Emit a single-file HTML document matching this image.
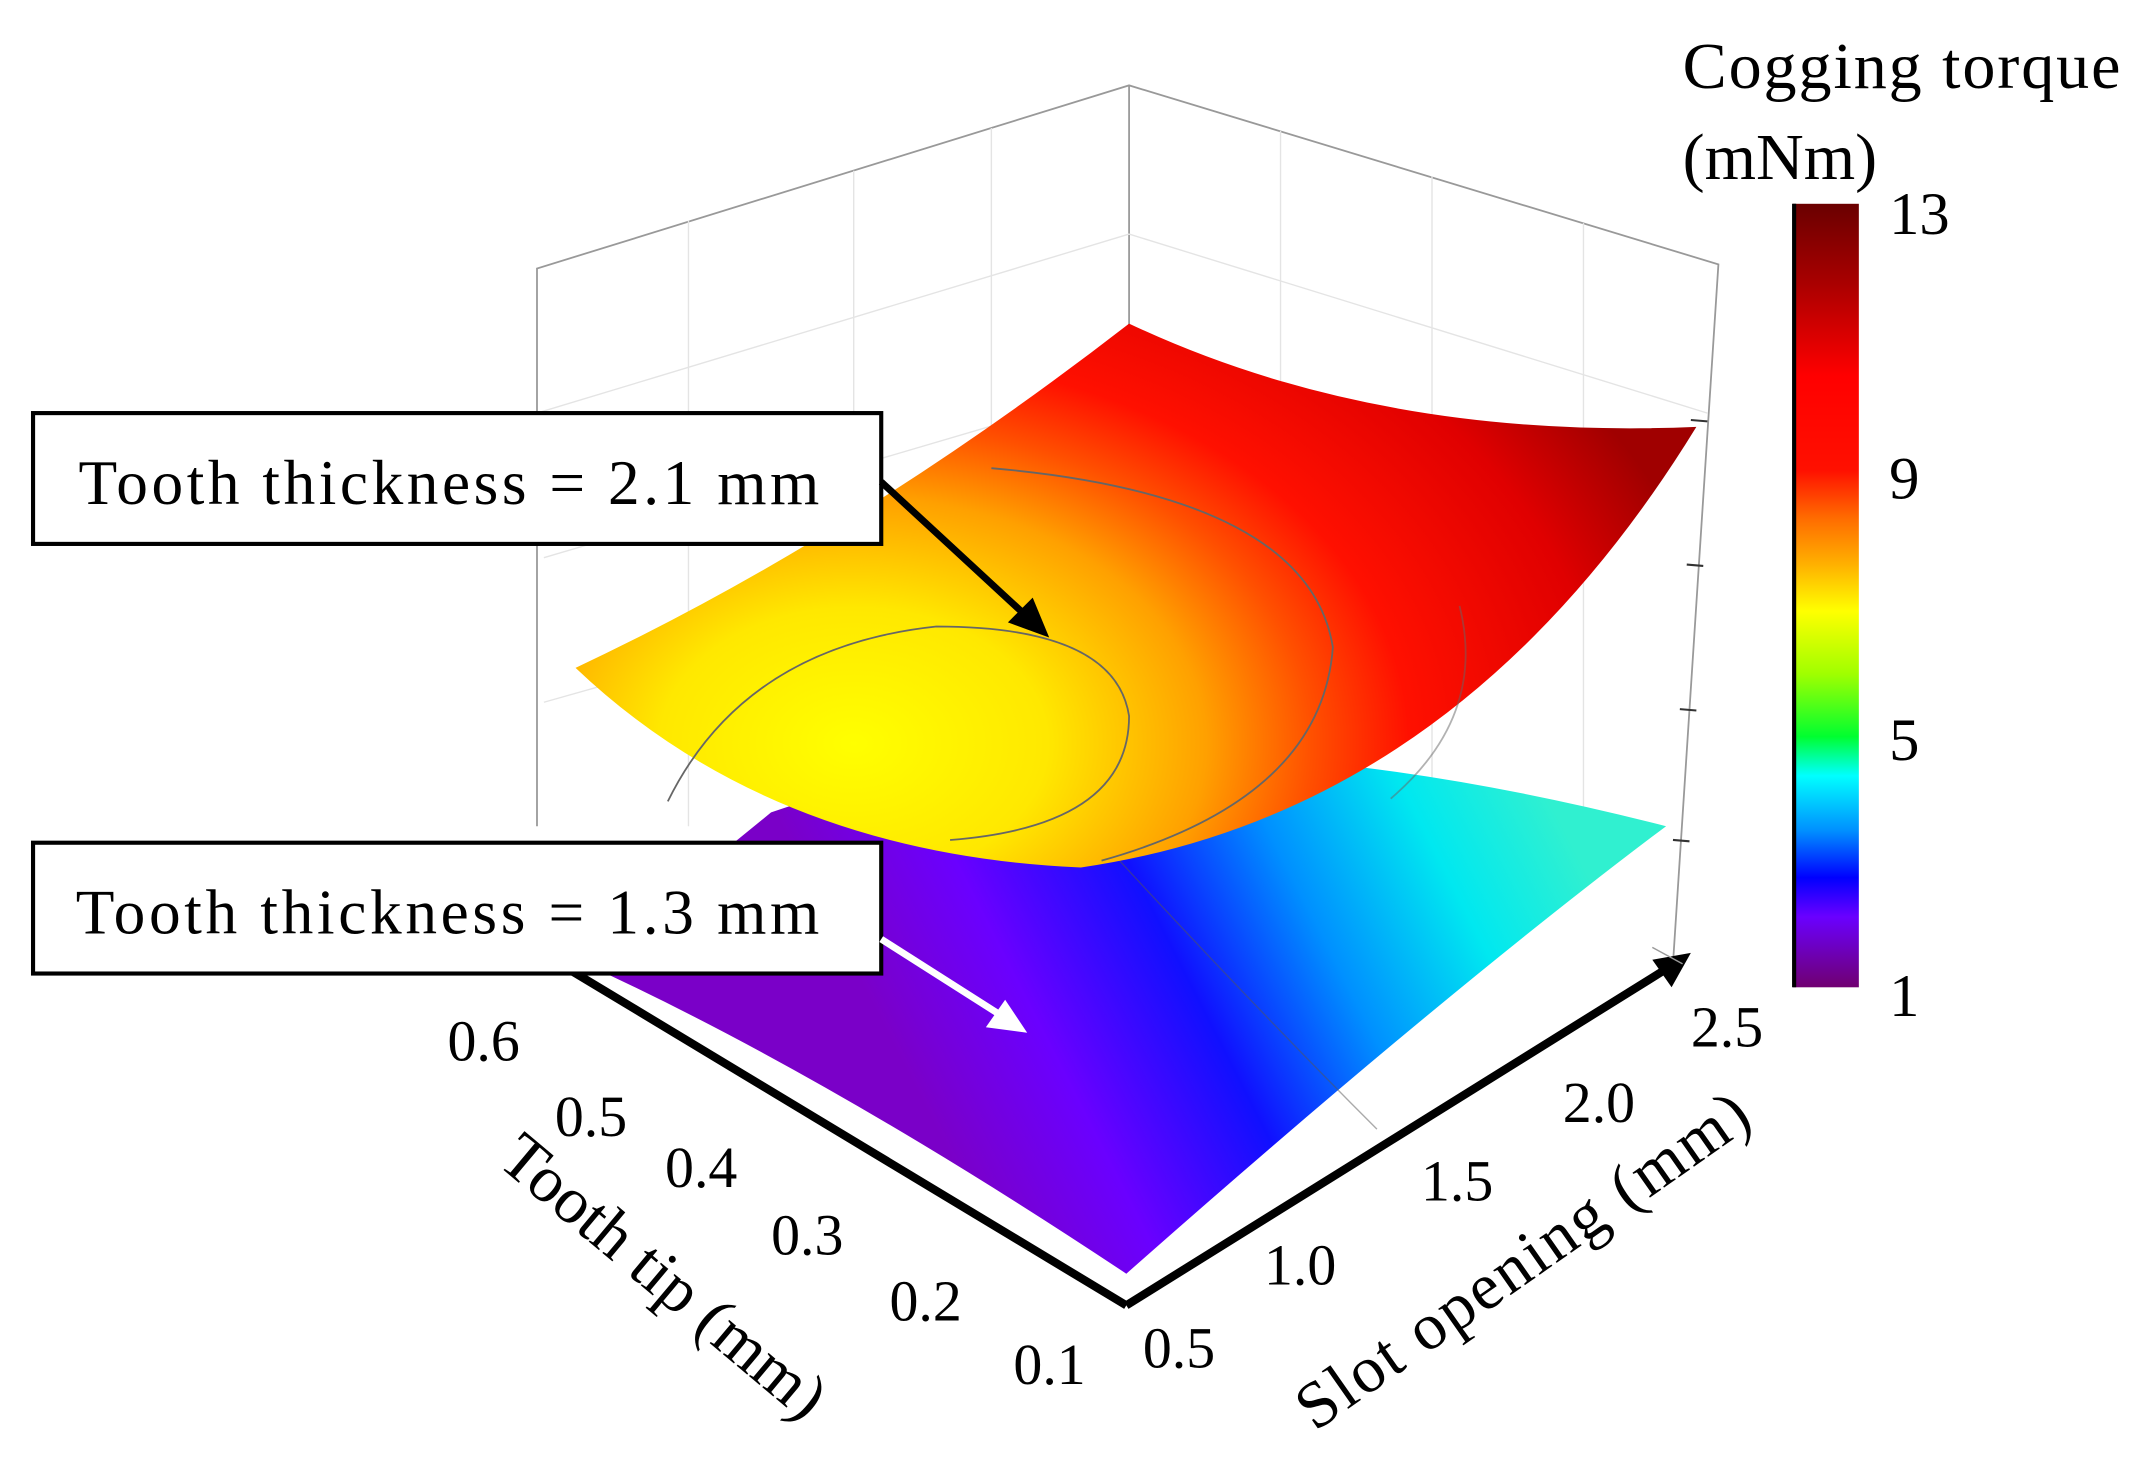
<!DOCTYPE html>
<html><head><meta charset="utf-8"><style>
html,body{margin:0;padding:0;background:#fff;}
svg{display:block;}
text{font-family:"Liberation Serif",serif;fill:#000;}
</style></head><body>
<svg width="2148" height="1472" viewBox="0 0 1560 1069" preserveAspectRatio="none" xmlns="http://www.w3.org/2000/svg">
<defs>
<linearGradient id="cb" x1="0" y1="0" x2="0" y2="1">
<stop offset="0" stop-color="#6a0000"/>
<stop offset="0.1" stop-color="#a80000"/>
<stop offset="0.22" stop-color="#ff0000"/>
<stop offset="0.34" stop-color="#ff1000"/>
<stop offset="0.4" stop-color="#ff6a00"/>
<stop offset="0.46" stop-color="#ffb000"/>
<stop offset="0.52" stop-color="#ffff00"/>
<stop offset="0.6" stop-color="#a0ff00"/>
<stop offset="0.68" stop-color="#00ff30"/>
<stop offset="0.73" stop-color="#00ffff"/>
<stop offset="0.8" stop-color="#0090ff"/>
<stop offset="0.86" stop-color="#0000ff"/>
<stop offset="0.91" stop-color="#6a00ff"/>
<stop offset="1" stop-color="#700070"/>
</linearGradient>
<linearGradient id="low" gradientUnits="userSpaceOnUse" x1="680" y1="820" x2="1130" y2="590">
<stop offset="0" stop-color="#7a00c8"/>
<stop offset="0.2" stop-color="#6a00ff"/>
<stop offset="0.42" stop-color="#1010ff"/>
<stop offset="0.62" stop-color="#0090ff"/>
<stop offset="0.82" stop-color="#00e8f0"/>
<stop offset="1" stop-color="#30f0d0"/>
</linearGradient>
<radialGradient id="up" gradientUnits="userSpaceOnUse" cx="620" cy="540" r="640" gradientTransform="translate(620 540) scale(1 0.7) translate(-620 -540)">
<stop offset="0" stop-color="#ffff00"/>
<stop offset="0.22" stop-color="#ffe800"/>
<stop offset="0.4" stop-color="#ffa000"/>
<stop offset="0.52" stop-color="#ff5000"/>
<stop offset="0.63" stop-color="#ff1000"/>
<stop offset="0.85" stop-color="#e00000"/>
<stop offset="1" stop-color="#a00000"/>
</radialGradient>
</defs>
<g stroke="#999" stroke-width="1.3" fill="none">
<polyline points="390,600 390,195 820,62 1248,192 1215,700"/>
<line x1="820" y1="62" x2="820" y2="520"/>
</g>
<g stroke="#e4e4e4" stroke-width="1" fill="none">
<line x1="390" y1="300" x2="820" y2="170"/><line x1="820" y1="170" x2="1240" y2="300"/>
<line x1="395" y1="405" x2="820" y2="280"/><line x1="395" y1="510" x2="820" y2="390"/>
<line x1="500" y1="160" x2="500" y2="600"/><line x1="620" y1="124" x2="620" y2="600"/>
<line x1="720" y1="93" x2="720" y2="600"/><line x1="930" y1="95" x2="930" y2="560"/>
<line x1="1040" y1="128" x2="1040" y2="580"/><line x1="1150" y1="162" x2="1150" y2="600"/>
</g>
<g stroke="#333" stroke-width="1.5">
<line x1="1228" y1="305" x2="1240" y2="306"/><line x1="1225" y1="410" x2="1237" y2="411"/>
<line x1="1220" y1="515" x2="1232" y2="516"/><line x1="1215" y1="610" x2="1227" y2="611"/>
</g>
<path d="M425,700 L560,590 Q820,500 1210,600 Q1050,720 818,925 Q600,780 425,700 Z" fill="url(#low)"/>
<path d="M790,600 Q900,720 1000,820" stroke="#555" stroke-width="1" fill="none" opacity="0.5"/>
<path d="M418,485 Q620,390 820,235 Q1000,320 1232,310 Q1060,590 785,630 Q560,620 418,485 Z" fill="url(#up)"/>
<g stroke="#666" stroke-width="1.3" fill="none">
<path d="M485,582 Q540,470 680,455 Q810,455 820,520 Q820,600 690,610"/>
<path d="M720,340 Q950,360 968,470 Q960,580 800,625"/>
<path d="M1060,440 Q1080,520 1010,580" opacity="0.5"/>
</g>
<line x1="415" y1="705" x2="818" y2="948" stroke="#000" stroke-width="6"/>
<line x1="818" y1="948" x2="1208" y2="705" stroke="#000" stroke-width="6"/>
<polygon points="1228,692 1200,697 1214,717" fill="#000"/>
<line x1="1222" y1="700" x2="1200" y2="688" stroke="#999" stroke-width="1"/>
<rect x="24" y="300" width="616" height="95" fill="#fff" stroke="#000" stroke-width="3"/>
<text x="57" y="366" font-size="46" textLength="538">Tooth thickness  = 2.1 mm</text>
<rect x="24" y="612" width="616" height="95" fill="#fff" stroke="#000" stroke-width="3"/>
<text x="55" y="678" font-size="46" textLength="540">Tooth thickness  = 1.3 mm</text>
<line x1="640" y1="350" x2="745" y2="447" stroke="#000" stroke-width="5"/>
<polygon points="762,463 732,452 750,434" fill="#000"/>
<line x1="640" y1="682" x2="728" y2="738" stroke="#fff" stroke-width="5"/>
<polygon points="746,750 716,746 730,726" fill="#fff"/>
<g font-size="42">
<text x="325" y="770">0.6</text><text x="403" y="825">0.5</text><text x="483" y="862">0.4</text>
<text x="560" y="911">0.3</text><text x="646" y="959">0.2</text><text x="736" y="1005">0.1</text>
<text x="830" y="993">0.5</text><text x="918" y="933">1.0</text><text x="1032" y="872">1.5</text>
<text x="1135" y="815">2.0</text><text x="1228" y="760">2.5</text>
</g>
<text font-size="48" transform="translate(360,845) rotate(40)">Tooth tip (mm)</text>
<text font-size="48" transform="translate(955,1040) rotate(-35)" textLength="390">Slot opening  (mm)</text>
<rect x="1302" y="148" width="48" height="569" fill="url(#cb)"/>
<line x1="1303" y1="148" x2="1303" y2="717" stroke="#000" stroke-width="3"/>
<g font-size="44">
<text x="1372" y="170">13</text><text x="1372" y="362">9</text>
<text x="1372" y="552">5</text><text x="1372" y="738">1</text>
<text x="1222" y="64" textLength="318" font-size="48">Cogging  torque</text>
<text x="1222" y="130" font-size="48">(mNm)</text>
</g>
</svg>
</body></html>
